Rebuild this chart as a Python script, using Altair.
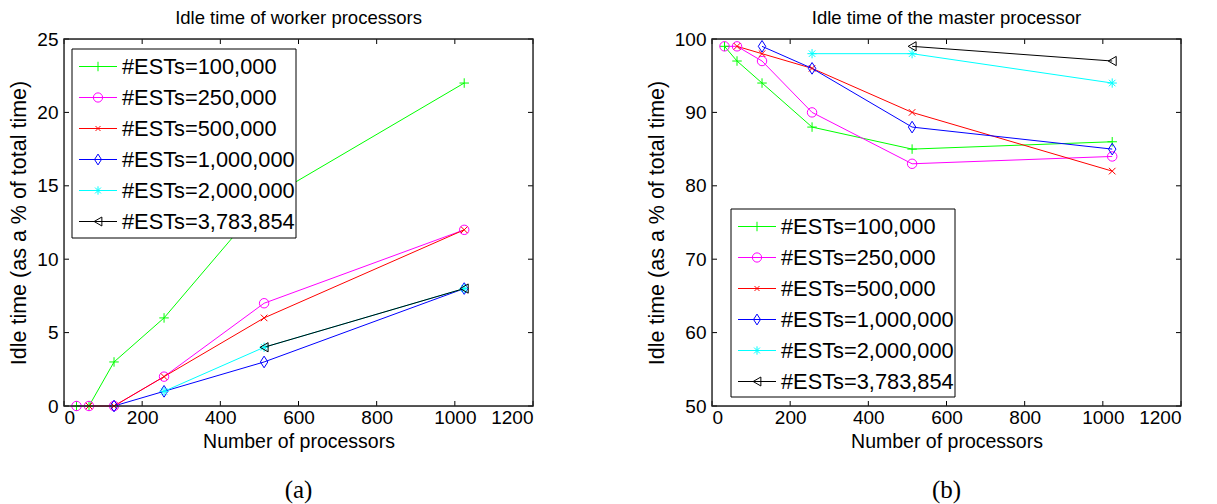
import altair as alt
import pandas as pd

# ---------------- data ----------------
procs = [32, 64, 128, 256, 512, 1024]
series = ["#ESTs=100,000", "#ESTs=250,000", "#ESTs=500,000",
          "#ESTs=1,000,000", "#ESTs=2,000,000", "#ESTs=3,783,854"]

worker_100k = [0, 0, 3, 6, 14, 22]
worker_250k = [0, 0, 0, 2, 7, 12]
worker_500k = [None, 0, 0, 2, 6, 12]
worker_1m = [None, None, 0, 1, 3, 8]
worker_2m = [None, None, None, 1, 4, 8]
worker_3m = [None, None, None, None, 4, 8]

master_100k = [99, 97, 94, 88, 85, 86]
master_250k = [99, 99, 97, 90, 83, 84]
master_500k = [None, 99, 98, 96, 90, 82]
master_1m = [None, None, 99, 96, 88, 85]
master_2m = [None, None, None, 98, 98, 94]
master_3m = [None, None, None, None, 99, 97]

x_ticks = [0, 200, 400, 600, 800, 1000, 1200]
worker_y_ticks = [0, 5, 10, 15, 20, 25]
master_y_ticks = [50, 60, 70, 80, 90, 100]

titles = ["Idle time of worker processors", "Idle time of the master processor"]
captions = ["(a)", "(b)"]
x_title = "Number of processors"
y_title = "Idle time (as a % of total time)"

# ---------------- styles ----------------
colors = ["#00ff00", "#ff00ff", "#ff0000", "#0000ff", "#00ffff", "#000000"]
PLUS = "M-1,0L1,0M0,-1L0,1"
XMARK = "M-0.7,-0.7L0.7,0.7M-0.7,0.7L0.7,-0.7"
STAR = "M-1,0L1,0M0,-1L0,1M-0.7,-0.7L0.7,0.7M-0.7,0.7L0.7,-0.7"
DIAMOND = "M0,-1.25L0.8,0L0,1.25L-0.8,0Z"
shapes = [PLUS, "circle", XMARK, DIAMOND, STAR, "triangle-left"]
sizes = [90, 85, 50, 75, 70, 80]

FONT = "Liberation Sans"
W, H = 469, 367


def long_df(cols):
    rows = []
    for s, vals in zip(series, cols):
        for p, v in zip(procs, vals):
            if v is not None:
                rows.append({"procs": p, "idle": v, "series": s})
    return pd.DataFrame(rows)


def panel(cols, ydom, yticks, title, caption, lx, ly, lw, lh):
    df = long_df(cols)
    xs = alt.Scale(domain=[0, 1200], nice=False, zero=False)
    ys = alt.Scale(domain=ydom, nice=False, zero=False)
    xax = alt.Axis(values=x_ticks, ticks=False, domain=False, grid=False, format="d",
                   title=x_title, labelPadding=2, titlePadding=5,
                   labelFontSize=19, titleFontSize=19.5, labelFont=FONT,
                   titleFont=FONT, titleFontWeight="normal",
                   labelColor="black", titleColor="black")
    yax = alt.Axis(values=yticks, ticks=False, domain=False, grid=False, format="d",
                   title=y_title, labelPadding=6, titlePadding=6,
                   labelFontSize=19, titleFontSize=21.5, labelFont=FONT,
                   titleFont=FONT, titleFontWeight="normal",
                   labelColor="black", titleColor="black")
    color = alt.Color("series:N", scale=alt.Scale(domain=series, range=colors), legend=None)

    lines = alt.Chart(df).mark_line(strokeWidth=1).encode(
        x=alt.X("procs:Q", scale=xs, axis=xax),
        y=alt.Y("idle:Q", scale=ys, axis=yax),
        color=color,
    )
    points = alt.Chart(df).mark_point(filled=False, strokeWidth=1, opacity=1).encode(
        x=alt.X("procs:Q", scale=xs, axis=xax),
        y=alt.Y("idle:Q", scale=ys, axis=yax),
        color=color,
        shape=alt.Shape("series:N", scale=alt.Scale(domain=series, range=shapes), legend=None),
        size=alt.Size("series:N", scale=alt.Scale(domain=series, range=sizes), legend=None),
    )

    xt = pd.DataFrame({"t": x_ticks})
    yt = pd.DataFrame({"t": yticks})
    tb = alt.Chart(xt).mark_rule(color="black", strokeWidth=1).encode(
        x=alt.X("t:Q", scale=xs, axis=xax), y=alt.value(H), y2=alt.value(H - 5))
    tt = alt.Chart(xt).mark_rule(color="black", strokeWidth=1).encode(
        x=alt.X("t:Q", scale=xs, axis=xax), y=alt.value(0), y2=alt.value(5))
    tl = alt.Chart(yt).mark_rule(color="black", strokeWidth=1).encode(
        y=alt.Y("t:Q", scale=ys, axis=yax), x=alt.value(0), x2=alt.value(5))
    tr = alt.Chart(yt).mark_rule(color="black", strokeWidth=1).encode(
        y=alt.Y("t:Q", scale=ys, axis=yax), x=alt.value(W), x2=alt.value(W - 5))

    one = pd.DataFrame({"a": [0]})
    frame = alt.Chart(one).mark_rect(fill=None, stroke="#222222", strokeWidth=1.4).encode(
        x=alt.value(0), x2=alt.value(W), y=alt.value(0), y2=alt.value(H))

    layers = [lines, points, tb, tt, tl, tr, frame]

    box = alt.Chart(one).mark_rect(fill="white", stroke="black", strokeWidth=1).encode(
        x=alt.value(lx), x2=alt.value(lx + lw), y=alt.value(ly), y2=alt.value(ly + lh))
    layers.append(box)
    for i, (s, c, shp, sz) in enumerate(zip(series, colors, shapes, sizes)):
        yy = ly + 17.5 + i * 31
        d = pd.DataFrame({"label": [s]})
        layers.append(alt.Chart(d).mark_rule(color=c, strokeWidth=1).encode(
            x=alt.value(lx + 7), x2=alt.value(lx + 45), y=alt.value(yy)))
        layers.append(alt.Chart(d).mark_point(filled=False, shape=shp, size=sz, color=c,
                                               strokeWidth=1, opacity=1).encode(
            x=alt.value(lx + 26), y=alt.value(yy)))
        layers.append(alt.Chart(d).mark_text(align="left", baseline="middle", fontSize=21.8,
                                              font=FONT, color="black").encode(
            x=alt.value(lx + 50), y=alt.value(yy), text="label:N"))

    cap = pd.DataFrame({"c": [caption]})
    layers.append(alt.Chart(cap).mark_text(align="center", baseline="middle", fontSize=25,
                                            font="Liberation Serif", color="black").encode(
        x=alt.value(W / 2), y=alt.value(H + 84), text="c:N"))

    return alt.layer(*layers).properties(
        width=W, height=H,
        title=alt.Title(title, fontSize=18.5, fontWeight="normal", font=FONT,
                        color="black", offset=-1, dy=-4, anchor="middle"),
    )


left = panel([worker_100k, worker_250k, worker_500k, worker_1m, worker_2m, worker_3m],
             [0, 25], worker_y_ticks, titles[0], captions[0], 8, 10, 224, 189)
right = panel([master_100k, master_250k, master_500k, master_1m, master_2m, master_3m],
              [50, 100], master_y_ticks, titles[1], captions[1], 19, 170, 224, 188)

chart = alt.hconcat(left, right, spacing=110).properties(
    padding={"left": 0, "top": 0, "right": 0, "bottom": 0}
).configure_view(stroke=None).configure(background="white")

chart.save("out.html", embed_options={"renderer": "svg", "actions": False})
